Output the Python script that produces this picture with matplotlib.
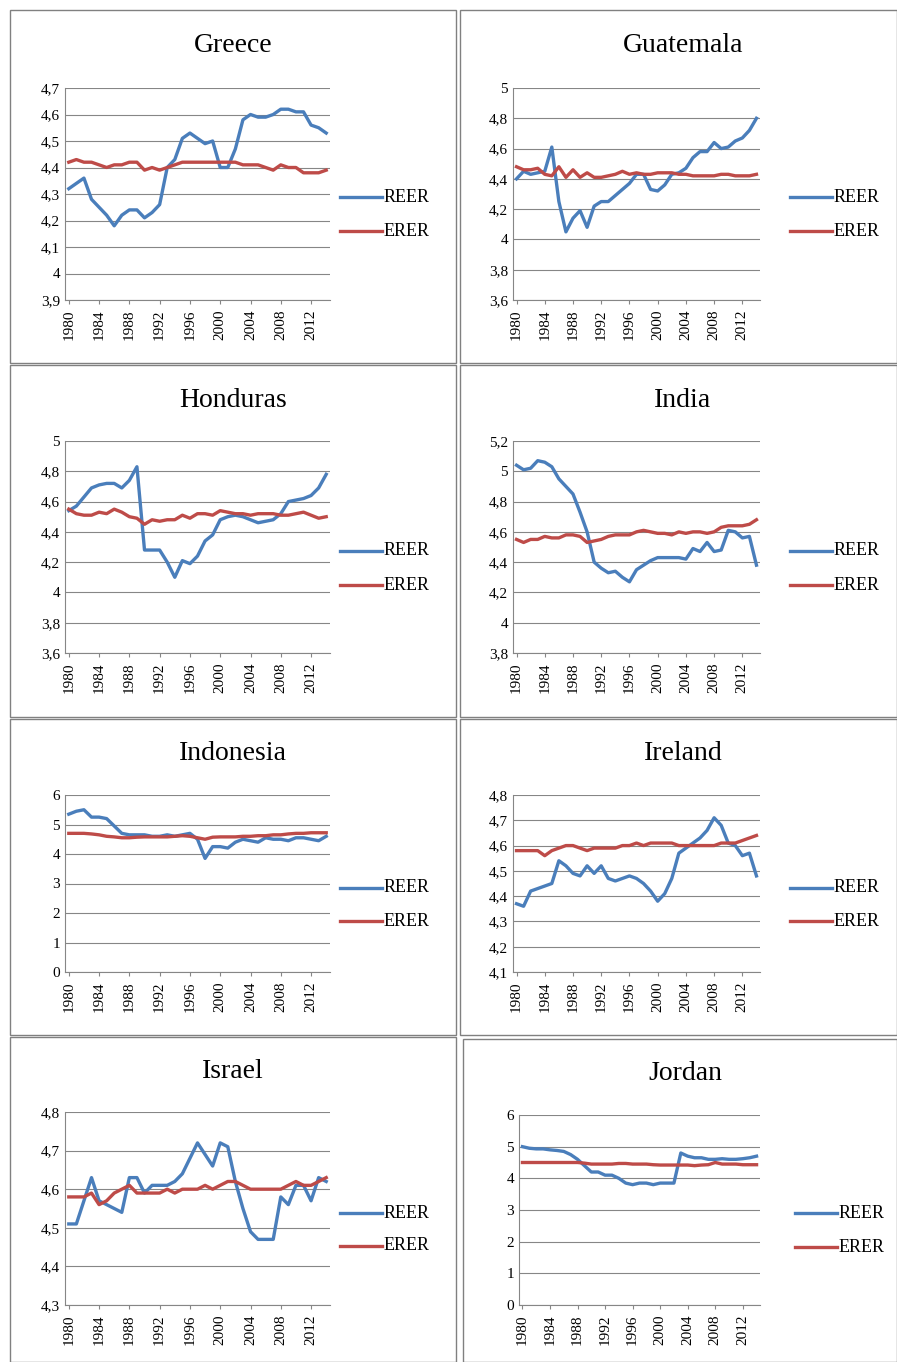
import matplotlib
matplotlib.use("Agg")
import matplotlib.pyplot as plt
from matplotlib.patches import Rectangle
from matplotlib.ticker import FuncFormatter

years = list(range(1980, 2015))

countries = ["Greece", "Guatemala", "Honduras", "India", "Indonesia", "Ireland", "Israel", "Jordan"]

greece_reer = [4.32, 4.34, 4.36, 4.28, 4.25, 4.22, 4.18, 4.22, 4.24, 4.24, 4.21, 4.23, 4.26, 4.40, 4.43, 4.51,
               4.53, 4.51, 4.49, 4.50, 4.40, 4.40, 4.47, 4.58, 4.60, 4.59, 4.59, 4.60, 4.62, 4.62, 4.61, 4.61,
               4.56, 4.55, 4.53]
greece_erer = [4.42, 4.43, 4.42, 4.42, 4.41, 4.40, 4.41, 4.41, 4.42, 4.42, 4.39, 4.40, 4.39, 4.40, 4.41, 4.42,
               4.42, 4.42, 4.42, 4.42, 4.42, 4.42, 4.42, 4.41, 4.41, 4.41, 4.40, 4.39, 4.41, 4.40, 4.40, 4.38,
               4.38, 4.38, 4.39]
guatemala_reer = [4.40, 4.45, 4.43, 4.44, 4.45, 4.61, 4.25, 4.05, 4.14, 4.19, 4.08, 4.22, 4.25, 4.25, 4.29, 4.33,
                  4.37, 4.43, 4.43, 4.33, 4.32, 4.36, 4.43, 4.44, 4.47, 4.54, 4.58, 4.58, 4.64, 4.60, 4.61, 4.65,
                  4.67, 4.72, 4.80]
guatemala_erer = [4.48, 4.46, 4.46, 4.47, 4.43, 4.42, 4.48, 4.41, 4.46, 4.41, 4.44, 4.41, 4.41, 4.42, 4.43, 4.45,
                  4.43, 4.44, 4.43, 4.43, 4.44, 4.44, 4.44, 4.43, 4.43, 4.42, 4.42, 4.42, 4.42, 4.43, 4.43, 4.42,
                  4.42, 4.42, 4.43]
honduras_reer = [4.54, 4.57, 4.63, 4.69, 4.71, 4.72, 4.72, 4.69, 4.74, 4.83, 4.28, 4.28, 4.28, 4.20, 4.10, 4.21,
                 4.19, 4.24, 4.34, 4.38, 4.48, 4.50, 4.51, 4.50, 4.48, 4.46, 4.47, 4.48, 4.52, 4.60, 4.61, 4.62,
                 4.64, 4.69, 4.78]
honduras_erer = [4.55, 4.52, 4.51, 4.51, 4.53, 4.52, 4.55, 4.53, 4.50, 4.49, 4.45, 4.48, 4.47, 4.48, 4.48, 4.51,
                 4.49, 4.52, 4.52, 4.51, 4.54, 4.53, 4.52, 4.52, 4.51, 4.52, 4.52, 4.52, 4.51, 4.51, 4.52, 4.53,
                 4.51, 4.49, 4.50]
india_reer = [5.04, 5.01, 5.02, 5.07, 5.06, 5.03, 4.95, 4.90, 4.85, 4.73, 4.60, 4.40, 4.36, 4.33, 4.34, 4.30,
              4.27, 4.35, 4.38, 4.41, 4.43, 4.43, 4.43, 4.43, 4.42, 4.49, 4.47, 4.53, 4.47, 4.48, 4.61, 4.60,
              4.56, 4.57, 4.38]
india_erer = [4.55, 4.53, 4.55, 4.55, 4.57, 4.56, 4.56, 4.58, 4.58, 4.57, 4.53, 4.54, 4.55, 4.57, 4.58, 4.58,
              4.58, 4.60, 4.61, 4.60, 4.59, 4.59, 4.58, 4.60, 4.59, 4.60, 4.60, 4.59, 4.60, 4.63, 4.64, 4.64,
              4.64, 4.65, 4.68]
indonesia_reer = [5.35, 5.45, 5.50, 5.25, 5.25, 5.20, 4.95, 4.70, 4.65, 4.65, 4.65, 4.60, 4.60, 4.65, 4.60, 4.65,
                  4.70, 4.50, 3.85, 4.25, 4.25, 4.20, 4.40, 4.50, 4.45, 4.40, 4.55, 4.50, 4.50, 4.45, 4.55, 4.55,
                  4.50, 4.45, 4.60]
indonesia_erer = [4.70, 4.70, 4.70, 4.68, 4.65, 4.60, 4.58, 4.55, 4.55, 4.57, 4.58, 4.58, 4.58, 4.58, 4.60, 4.62,
                  4.60, 4.55, 4.50, 4.57, 4.58, 4.58, 4.58, 4.60, 4.60, 4.62, 4.62, 4.65, 4.65, 4.68, 4.70, 4.70,
                  4.72, 4.72, 4.72]
ireland_reer = [4.37, 4.36, 4.42, 4.43, 4.44, 4.45, 4.54, 4.52, 4.49, 4.48, 4.52, 4.49, 4.52, 4.47, 4.46, 4.47,
                4.48, 4.47, 4.45, 4.42, 4.38, 4.41, 4.47, 4.57, 4.59, 4.61, 4.63, 4.66, 4.71, 4.68, 4.61, 4.60,
                4.56, 4.57, 4.48]
ireland_erer = [4.58, 4.58, 4.58, 4.58, 4.56, 4.58, 4.59, 4.60, 4.60, 4.59, 4.58, 4.59, 4.59, 4.59, 4.59, 4.60,
                4.60, 4.61, 4.60, 4.61, 4.61, 4.61, 4.61, 4.60, 4.60, 4.60, 4.60, 4.60, 4.60, 4.61, 4.61, 4.61,
                4.62, 4.63, 4.64]
israel_reer = [4.51, 4.51, 4.57, 4.63, 4.57, 4.56, 4.55, 4.54, 4.63, 4.63, 4.59, 4.61, 4.61, 4.61, 4.62, 4.64,
               4.68, 4.72, 4.69, 4.66, 4.72, 4.71, 4.62, 4.55, 4.49, 4.47, 4.47, 4.47, 4.58, 4.56, 4.61, 4.61,
               4.57, 4.63, 4.62]
israel_erer = [4.58, 4.58, 4.58, 4.59, 4.56, 4.57, 4.59, 4.60, 4.61, 4.59, 4.59, 4.59, 4.59, 4.60, 4.59, 4.60,
               4.60, 4.60, 4.61, 4.60, 4.61, 4.62, 4.62, 4.61, 4.60, 4.60, 4.60, 4.60, 4.60, 4.61, 4.62, 4.61,
               4.61, 4.62, 4.63]
jordan_reer = [5.00, 4.95, 4.93, 4.93, 4.90, 4.88, 4.85, 4.75, 4.60, 4.40, 4.20, 4.20, 4.10, 4.10, 4.00, 3.85,
               3.80, 3.85, 3.85, 3.80, 3.85, 3.85, 3.85, 4.80, 4.70, 4.65, 4.65, 4.60, 4.60, 4.62, 4.60, 4.60,
               4.62, 4.65, 4.70]
jordan_erer = [4.50, 4.50, 4.50, 4.50, 4.50, 4.50, 4.50, 4.50, 4.50, 4.48, 4.45, 4.45, 4.45, 4.45, 4.47, 4.47,
               4.45, 4.45, 4.45, 4.43, 4.42, 4.42, 4.42, 4.42, 4.42, 4.40, 4.42, 4.43, 4.50, 4.45, 4.45, 4.45,
               4.43, 4.43, 4.43]

reer = [greece_reer, guatemala_reer, honduras_reer, india_reer, indonesia_reer, ireland_reer, israel_reer, jordan_reer]
erer = [greece_erer, guatemala_erer, honduras_erer, india_erer, indonesia_erer, ireland_erer, israel_erer, jordan_erer]
yaxes = [(3.9, 4.7, 0.1), (3.6, 5.0, 0.2), (3.6, 5.0, 0.2), (3.8, 5.2, 0.2),
         (0, 6, 1), (4.1, 4.8, 0.1), (4.3, 4.8, 0.1), (0, 6, 1)]

# layout in pixels
W, H = 897, 1362
boxes = [(10, 10, 456, 363), (460, 10, 897, 363), (10, 365, 456, 717), (460, 365, 897, 717),
         (10, 719, 456, 1035), (460, 719, 897, 1035), (10, 1037, 456, 1362), (463, 1039, 897, 1362)]
axbox = [(65, 88, 330, 300), (513, 88, 760, 300), (65, 441, 330, 653), (513, 441, 760, 653),
         (65, 795, 330, 972), (513, 795, 760, 972), (65, 1112, 330, 1305), (519, 1115, 760, 1305)]
titles = [(233, 45), (683, 45), (233, 400), (683, 400), (233, 753), (683, 753), (233, 1072), (685, 1073)]
legy = [(197, 231), (197, 231), (551, 585), (551, 585), (888, 921), (888, 921), (1213, 1246), (1213, 1247)]
legx = [340, 790, 340, 790, 340, 790, 340, 795]

REER_C = "#4A7EBB"
ERER_C = "#BE4B48"
plt.rcParams["font.family"] = ["Liberation Serif", "DejaVu Serif"]

fig = plt.figure(figsize=(W / 100, H / 100), dpi=100)


def fx(x):
    return x / W


def fy(y):
    return 1 - y / H


for i, name in enumerate(countries):
    x0, y0, x1, y1 = boxes[i]
    fig.patches.append(Rectangle((fx(x0), fy(y1)), fx(x1 - x0), (y1 - y0) / H,
                                 transform=fig.transFigure, fill=False, ec="#808080", lw=1))
    a0, b0, a1, b1 = axbox[i]
    ax = fig.add_axes([fx(a0), fy(b1), fx(a1 - a0), (b1 - b0) / H])
    ax.plot(years, reer[i], color=REER_C, lw=2.4)
    ax.plot(years, erer[i], color=ERER_C, lw=2.4)
    lo, hi, st = yaxes[i]
    n = int(round((hi - lo) / st))
    ticks = [lo + k * st for k in range(n + 1)]
    ax.set_ylim(lo, hi)
    ax.set_yticks(ticks)
    ax.yaxis.set_major_formatter(FuncFormatter(
        lambda v, p: (f"{v:.0f}" if abs(v - round(v)) < 1e-6 else f"{v:.1f}").replace(".", ",")))
    ax.set_xlim(1979.5, 2014.5)
    ax.set_xticks(list(range(1980, 2015, 4)))
    ax.set_xticklabels([str(y) for y in range(1980, 2015, 4)], rotation=90)
    ax.grid(axis="y", color="#868686", lw=0.8)
    ax.set_axisbelow(True)
    for s in ["top", "right"]:
        ax.spines[s].set_visible(False)
    ax.spines["left"].set_color("#868686")
    ax.spines["bottom"].set_color("#868686")
    ax.tick_params(labelsize=11, length=3, color="#868686")
    ax.tick_params(axis="y", length=0)
    tx, ty = titles[i]
    fig.text(fx(tx), fy(ty), name, fontsize=20, ha="center", va="center")
    lx = legx[i]
    for lab, yy, c in [("REER", legy[i][0], REER_C), ("ERER", legy[i][1], ERER_C)]:
        fig.lines.append(plt.Line2D([fx(lx), fx(lx + 42)], [fy(yy), fy(yy)],
                                    transform=fig.transFigure, color=c, lw=2.4))
        fig.text(fx(lx + 44), fy(yy), lab, fontsize=13, va="center")

fig.savefig("out.png", dpi=100)
